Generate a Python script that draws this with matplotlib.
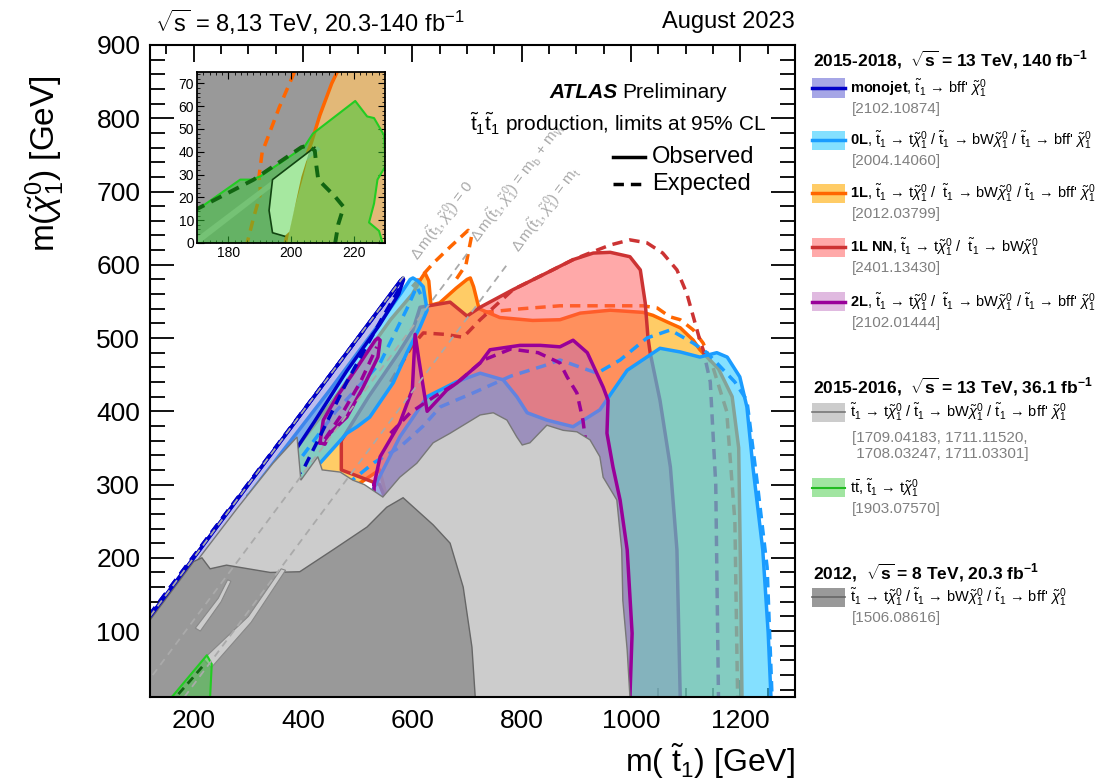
import numpy as np
import matplotlib.pyplot as plt
from matplotlib.patches import Rectangle
from matplotlib.lines import Line2D
from matplotlib.ticker import MultipleLocator

plt.rcParams['font.family'] = ['Liberation Sans', 'DejaVu Sans']
plt.rcParams['mathtext.fontset'] = 'custom'
plt.rcParams['mathtext.rm'] = 'Liberation Sans'
plt.rcParams['mathtext.it'] = 'Liberation Sans:italic'
plt.rcParams['mathtext.bf'] = 'Liberation Sans:bold'
plt.rcParams['mathtext.sf'] = 'Liberation Sans'

# ---------------- contours, m(stop) vs m(chi10) in GeV ----------------
# monojet (2102.10874)
mono_obs_x = [115, 250, 400, 500, 560, 578, 584, 575, 540, 480, 420, 380, 300, 200, 115]
mono_obs_y = [115, 250, 400, 500, 560, 578, 580, 560, 518, 455, 385, 340, 270, 180, 95]
mono_exp_x = [118, 583, 578, 546, 480, 425, 400, 300, 150, 118]
mono_exp_y = [121, 582, 570, 529, 440, 357, 320, 250, 120, 100]

# 0L (2004.14060): band near the diagonal and the large region
zl_band_x = [300, 450, 540, 580, 596, 601, 610, 620, 627, 614, 590, 565, 522, 499, 480, 420, 300]
zl_band_y = [285, 430, 520, 562, 580, 582, 578, 570, 538, 515, 480, 439, 392, 379, 370, 320, 230]
zl_obs_x = [500, 528, 577, 627, 680, 724, 766, 791, 810, 846, 894, 943, 993, 1053, 1090,
            1126, 1157, 1176, 1199, 1212, 1223, 1241, 1251, 1256, 1256, 500]
zl_obs_y = [230, 293, 365, 420, 440, 452, 443, 420, 398, 388, 379, 402, 456, 486, 481,
            474, 480, 474, 447, 406, 324, 211, 97, 10, 0, 0]
zl_exp_x = [480, 530, 577, 620, 651, 711, 780, 840, 870, 938, 980, 1029, 1072, 1114, 1139,
            1190, 1212, 1231, 1249, 1258, 1260]
zl_exp_y = [300, 330, 351, 380, 406, 425, 448, 462, 470, 452, 470, 500, 511, 493, 480,
            440, 415, 302, 187, 10, 0]
zl_exp2_x = [380, 460, 541, 590, 608, 615]
zl_exp2_y = [320, 400, 466, 540, 570, 560]

# 1L (2012.03799)
ol_obs_x = [300, 450, 560, 600, 615, 623, 630, 634, 650, 680, 700, 706, 712, 722, 760, 820,
            870, 907, 962, 1022, 1040, 1066, 1090, 1114, 1126, 1160, 1185, 1197, 1200, 1203,
            1203, 650, 540, 300]
ol_obs_y = [265, 410, 525, 560, 580, 589, 578, 545, 548, 568, 580, 582, 570, 540, 528, 524,
            525, 534, 538, 535, 531, 522, 514, 497, 484, 458, 420, 350, 200, 10,
            0, 0, 320, 200]
ol_exp_x = [730, 800, 870, 1022, 1048, 1071, 1090, 1114, 1132, 1150, 1175, 1190, 1195, 1196]
ol_exp_y = [535, 540, 544, 544, 541, 529, 525, 511, 493, 460, 400, 250, 10, 0]
ol_exp2_x = [600, 638, 670, 702, 708, 698, 680]
ol_exp2_y = [570, 602, 625, 647, 638, 600, 580]

# 1L NN (2401.13430)
nn_obs_x = [470, 520, 575, 601, 614, 669, 700, 724, 784, 846, 894, 931, 962, 998, 1017,
            1026, 1031, 1035, 1053, 1072, 1084, 1090, 1090, 700, 540, 470]
nn_obs_y = [360, 420, 480, 511, 542, 549, 530, 542, 566, 589, 607, 616, 617, 611, 593,
            548, 501, 480, 415, 324, 211, 10, 0, 0, 300, 320]
nn_exp_x = [560, 600, 620, 660, 693, 724, 784, 846, 894, 931, 962, 998, 1029, 1058, 1084,
            1102, 1114, 1126, 1132, 1145, 1155, 1160, 1160]
nn_exp_y = [440, 490, 507, 505, 501, 525, 566, 589, 607, 618, 627, 634, 630, 616, 593,
            561, 529, 497, 484, 440, 300, 10, 0]

# 2L (2102.01444)
tl_obs_x = [530, 541, 577, 600, 605, 612, 627, 663, 682, 724, 742, 797, 834, 870, 894, 920,
            949, 958, 956, 967, 980, 993, 1002, 998, 998, 530]
tl_obs_y = [300, 338, 384, 430, 505, 470, 400, 429, 439, 466, 484, 490, 490, 488, 497, 480,
            433, 415, 370, 324, 279, 211, 97, 10, 0, 0]
tl_exp_x = [560, 596, 640, 682, 730, 780, 830, 870, 883, 901, 912, 916, 918]
tl_exp_y = [370, 398, 420, 439, 470, 485, 480, 466, 447, 425, 388, 365, 300]
tl_lobe_x = [431, 437, 462, 499, 532, 537, 541, 537, 510, 480, 449, 440]
tl_lobe_y = [357, 388, 420, 460, 497, 500, 497, 474, 433, 392, 370, 355]
tl_lobe_exp_x = [440, 470, 505, 535]
tl_lobe_exp_y = [362, 395, 440, 488]

# 2015-2016, 36.1 fb-1
old_x = [110, 200, 280, 345, 389, 396, 427, 435, 468, 491, 512, 546, 577, 608, 638,
         669, 724, 748, 773, 791, 801, 815, 846, 876, 901, 925, 943, 949, 974, 983, 985, 993,
         998, 998, 110]
old_y = [100, 190, 268, 329, 365, 306, 338, 320, 317, 306, 300, 283, 310, 329, 357,
         370, 395, 398, 388, 365, 354, 357, 381, 374, 372, 361, 338, 310, 279, 211, 142, 74,
         10, 0, 0]
tt_x = [160, 224, 233, 230, 229, 158]
tt_y = [10, 67, 55, 10, 0, 0]
tt_exp_x = [172, 198, 222]
tt_exp_y = [14, 36, 57]

# 2012, 20.3 fb-1
run1_x = [110, 160, 200, 215, 230, 260, 300, 340, 394, 455, 517, 553, 583, 638, 669, 693, 709,
          715, 715, 110]
run1_y = [105, 155, 195, 200, 185, 190, 185, 180, 181, 211, 242, 269, 282, 245, 220, 160, 78,
          10, 0, 0]
gap1_x = [218, 300, 360, 368, 305, 232]
gap1_y = [62, 120, 185, 183, 112, 50]
gap2_x = [203, 245, 262, 268, 250, 212]
gap2_y = [104, 145, 170, 168, 140, 100]

# kinematic guide lines
dm0_x, dm0_y = [120, 590], [120, 590]
dmw_x, dmw_y = [125, 700], [40, 615]
dmt_x, dmt_y = [183, 775], [10, 602]

# ---------------- inset (zoom near m(stop) ~ m(top)) ----------------
in_orange_x = [198.2, 200.0, 203.3, 204.9, 206.5, 209.2, 213.0, 215.1, 231, 231]
in_orange_y = [0, 12.8, 29, 38, 44, 56, 70, 76, 76, 0]
in_orange_exp_x = [201.1, 196.2, 190.8, 189.8, 190.3, 188.1, 186.0]
in_orange_exp_y = [75, 59.3, 39.8, 29.3, 21.8, 11.3, 0]
in_band_x = [169, 208.5, 209.5, 169]
in_band_y = [1.5, 42.5, 41.0, -2]
in_green_x = [169, 183.8, 187.6, 190.3, 204.3, 207.0, 220.5, 224.3, 226.5, 229.7, 230.2,
              227.6, 226.5, 224.9, 228.1, 229.2, 169]
in_green_y = [13.5, 27.8, 27.8, 29.3, 42.3, 48, 62.3, 55.5, 54.8, 47.3, 33.8,
              27.8, 17.3, 9, 5.3, 0, 0]
in_light_x = [194.1, 193.0, 194.1, 197.9, 199.5, 203.3, 205.8, 207.6]
in_light_y = [27.8, 14.3, 4.5, 3.0, 5.0, 29.0, 40.0, 42.0]
in_obs_x = [207.6, 194.1, 193.0, 194.1, 197.9]
in_obs_y = [42.0, 27.8, 14.3, 4.5, 3.0]
in_exp_x = [169, 188.1, 203.3, 205.4, 207.6, 208.1, 208.7, 214.1, 216.8, 215.1, 214.1]
in_exp_y = [14.2, 27.8, 42, 42.8, 40.5, 33.8, 27.8, 20.3, 15.8, 8.3, 0]

# colours
C_MONO, L_MONO = '#6b6bd6', '#0000c8'
C_0L, L_0L = '#33ccff', '#1a9cff'
C_1L, L_1L = '#ffaa00', '#ff6600'
C_NN, L_NN = '#ff5555', '#cc3333'
C_2L, L_2L = '#bb66bb', '#990099'
DASH = (0, (3, 2))


def closed(v):
    return list(v) + [v[0]]


fig = plt.figure(figsize=(11.07, 7.83), dpi=100)
ax = fig.add_axes([150 / 1107, 86 / 783, 645 / 1107, 652 / 783])
ax.set_xlim(120, 1300)
ax.set_ylim(10, 900)

# 1L
ax.fill(ol_obs_x, ol_obs_y, color=C_1L, alpha=0.6, lw=0, zorder=2)
ax.plot(closed(ol_obs_x), closed(ol_obs_y), color=L_1L, lw=2.5, zorder=2.1)
ax.plot(ol_exp_x, ol_exp_y, color=L_1L, lw=2.5, ls=DASH, zorder=2.1)
ax.plot(ol_exp2_x, ol_exp2_y, color=L_1L, lw=2.5, ls=DASH, zorder=2.1)
# 1L NN
ax.fill(nn_obs_x, nn_obs_y, color=C_NN, alpha=0.5, lw=0, zorder=3)
ax.plot(closed(nn_obs_x), closed(nn_obs_y), color=L_NN, lw=2.5, zorder=3.1)
ax.plot(nn_exp_x, nn_exp_y, color=L_NN, lw=2.5, ls=DASH, zorder=3.1)
# 0L
for xs, ys in [(zl_band_x, zl_band_y), (zl_obs_x, zl_obs_y)]:
    ax.fill(xs, ys, color=C_0L, alpha=0.6, lw=0, zorder=4)
    ax.plot(closed(xs), closed(ys), color=L_0L, lw=2.5, zorder=4.1)
ax.plot(zl_exp_x, zl_exp_y, color=L_0L, lw=2.5, ls=DASH, zorder=4.1)
ax.plot(zl_exp2_x, zl_exp2_y, color=L_0L, lw=2.5, ls=DASH, zorder=4.1)
# 2L
for xs, ys in [(tl_obs_x, tl_obs_y), (tl_lobe_x, tl_lobe_y)]:
    ax.fill(xs, ys, color=C_2L, alpha=0.45, lw=0, zorder=5)
    ax.plot(closed(xs), closed(ys), color=L_2L, lw=2.5, zorder=5.1)
ax.plot(tl_exp_x, tl_exp_y, color=L_2L, lw=2.5, ls=DASH, zorder=5.1)
ax.plot(tl_lobe_exp_x, tl_lobe_exp_y, color=L_2L, lw=2.5, ls=DASH, zorder=5.1)
# monojet
ax.fill(mono_obs_x, mono_obs_y, color=C_MONO, alpha=0.45, lw=0, zorder=6)
ax.plot(closed(mono_obs_x), closed(mono_obs_y), color=L_MONO, lw=2.5, zorder=6.1)
ax.plot(mono_obs_x[:6], mono_obs_y[:6], color=L_MONO, lw=2.5, zorder=9.5)
ax.plot(closed(mono_exp_x), closed(mono_exp_y), color=L_MONO, lw=2.5, ls=DASH, zorder=6.1)
ax.plot(mono_exp_x[:2], mono_exp_y[:2], color=L_MONO, lw=2.5, ls=DASH, zorder=9.5)

# older results drawn on top
ax.fill(old_x, old_y, facecolor='#cccccc', edgecolor='#777777', lw=1, zorder=7)
ax.fill(run1_x, run1_y, facecolor='#999999', edgecolor='#666666', lw=1, zorder=8)
for xs, ys in [(gap1_x, gap1_y), (gap2_x, gap2_y)]:
    ax.fill(xs, ys, facecolor='#cccccc', edgecolor='#888888', lw=0.8, zorder=8.2)
ax.fill(tt_x, tt_y, facecolor='#44cc44', alpha=0.5, lw=0, zorder=9)
ax.plot(closed(tt_x), closed(tt_y), color='#22cc22', lw=1.5, zorder=9.1)
ax.plot(tt_exp_x, tt_exp_y, color='#116611', lw=2, ls=DASH, zorder=9.1)

# kinematic lines
gcol = '#aaaaaa'
for xs, ys in [(dm0_x, dm0_y), (dmw_x, dmw_y), (dmt_x, dmt_y)]:
    ax.plot(xs, ys, color=gcol, lw=1.3, ls=(0, (4, 3)), zorder=10)
dm_lab = r"$\Delta\,\mathrm{m}(\tilde{\mathrm{t}}_{1},\tilde{\chi}^{0}_{1})$"
ax.text(604, 608, dm_lab + " = 0", rotation=45, transform_rotates_text=True,
        rotation_mode='anchor', va='center', color=gcol, fontsize=11, zorder=10)
ax.text(714, 633, dm_lab + r" = m$_{\mathrm{b}}$ + m$_{\mathrm{W}}$", rotation=45,
        transform_rotates_text=True, rotation_mode='anchor', va='center', color=gcol,
        fontsize=11, zorder=10)
ax.text(789, 620, dm_lab + r" = m$_{\mathrm{t}}$", rotation=45, transform_rotates_text=True,
        rotation_mode='anchor', va='center', color=gcol, fontsize=11, zorder=10)

ax.xaxis.set_major_locator(MultipleLocator(200))
ax.xaxis.set_minor_locator(MultipleLocator(50))
ax.yaxis.set_major_locator(MultipleLocator(100))
ax.yaxis.set_minor_locator(MultipleLocator(20))
ax.tick_params(which='both', direction='in', top=True, right=True, width=1.3)
ax.tick_params(axis='x', which='major', length=12, labelsize=19, pad=9)
ax.tick_params(axis='x', which='minor', length=6.5)
ax.tick_params(axis='y', which='major', length=17, labelsize=19, pad=7)
ax.tick_params(axis='y', which='minor', length=11)
for s in ax.spines.values():
    s.set_linewidth(1.5)
    s.set_zorder(20)

# ---------------- inset ----------------
axin = fig.add_axes([197 / 1107, 1 - 243 / 783, 188 / 1107, 171 / 783])
axin.set_xlim(170, 230)
axin.set_ylim(0, 75)
axin.set_facecolor('#999999')
axin.fill(in_orange_x, in_orange_y, color='#e2b878', lw=0, zorder=1)
axin.plot(in_orange_x[:8], in_orange_y[:8], color='#ff6600', lw=2.5, zorder=1.5)
axin.plot(in_orange_exp_x, in_orange_exp_y, color='#ff6600', lw=2.5, ls=DASH, zorder=1.5)
axin.fill(in_band_x, in_band_y, color='#b8b8b8', lw=0, zorder=1.6)
axin.fill(in_green_x, in_green_y, color='#33cc33', alpha=0.5, lw=0, zorder=2)
axin.fill(in_light_x, in_light_y, color='#a6e8a0', lw=0, zorder=2.1)
axin.plot(closed(in_green_x), closed(in_green_y), color='#22cc22', lw=1.5, zorder=2.2)
axin.plot(in_obs_x, in_obs_y, color='#114411', lw=1.2, zorder=2.3)
axin.plot(in_exp_x, in_exp_y, color='#116611', lw=2.8, ls=DASH, zorder=2.3)
axin.xaxis.set_major_locator(MultipleLocator(20))
axin.xaxis.set_minor_locator(MultipleLocator(2))
axin.yaxis.set_major_locator(MultipleLocator(10))
axin.yaxis.set_minor_locator(MultipleLocator(2))
axin.tick_params(which='both', direction='in', top=True, right=True, labelsize=10, pad=2)
axin.tick_params(which='major', length=5)
axin.tick_params(which='minor', length=2.5)
for s in axin.spines.values():
    s.set_linewidth(1.3)
    s.set_zorder(20)

# ---------------- texts ----------------
W, H = 1107, 783


def fx(px):
    return px / W


def fy(py):
    return 1 - py / H


fig.text(fx(155), fy(22), r"$\sqrt{\mathrm{s}}$ = 8,13 TeV, 20.3-140 fb$^{-1}$", fontsize=17,
         va='center')
fig.text(fx(795), fy(22), "August 2023", fontsize=17, ha='right', va='center')
fig.text(fx(45), fy(75), r"m($\tilde{\chi}^{0}_{1}$) [GeV]", fontsize=24, rotation=90,
         ha='center', va='top')
fig.text(fx(795), fy(772), r"m( $\tilde{\mathrm{t}}_{1}$) [GeV]", fontsize=23, ha='right',
         va='baseline')
fig.text(fx(549), fy(92), "ATLAS", fontsize=15, fontweight='bold', style='italic', va='center')
fig.text(fx(622), fy(92), "Preliminary", fontsize=15, va='center')
fig.text(fx(470), fy(124), r"$\tilde{\mathrm{t}}_{1}\tilde{\mathrm{t}}_{1}$ production, limits at 95% CL",
         fontsize=15, va='center')
fig.add_artist(Line2D([fx(613), fx(645)], [fy(157), fy(157)], color='black', lw=2.5))
fig.add_artist(Line2D([fx(613), fx(645)], [fy(184), fy(184)], color='black', lw=2.5, ls=DASH))
fig.text(fx(652), fy(157), "Observed", fontsize=17, va='center')
fig.text(fx(652), fy(184), "Expected", fontsize=17, va='center')

# ---------------- right-hand legend ----------------
T1 = r"$\tilde{\mathrm{t}}_{1}$"
N1 = r"$\tilde{\chi}^{0}_{1}$"
dec_t = T1 + " \u2192 t" + N1
dec_bw = T1 + " \u2192 bW" + N1
dec_4b = T1 + " \u2192 bff' " + N1

headers = [
    (60, r"2015-2018,  $\sqrt{\mathbf{s}}$ = 13 TeV, 140 fb$^{\mathbf{-1}}$"),
    (387, r"2015-2016,  $\sqrt{\mathbf{s}}$ = 13 TeV, 36.1 fb$^{\mathbf{-1}}$"),
    (573, r"2012,  $\sqrt{\mathbf{s}}$ = 8 TeV, 20.3 fb$^{\mathbf{-1}}$"),
]
for py, s in headers:
    fig.text(fx(813), fy(py), s, fontsize=12.5, fontweight='bold', va='center')

entries = [
    (88, C_MONO, 0.6, L_MONO, 2.5, r"$\mathbf{monojet}$, " + dec_4b, ["[2102.10874]"]),
    (140, C_0L, 0.6, L_0L, 2.5, r"$\mathbf{0L}$, " + dec_t + " / " + dec_bw + " / " + dec_4b,
     ["[2004.14060]"]),
    (193, C_1L, 0.6, L_1L, 2.5, r"$\mathbf{1L}$, " + dec_t + " /  " + dec_bw + " / " + dec_4b,
     ["[2012.03799]"]),
    (247, C_NN, 0.5, L_NN, 2.5, r"$\mathbf{1L\ NN}$, " + dec_t + " /  " + dec_bw,
     ["[2401.13430]"]),
    (302, C_2L, 0.45, L_2L, 2.5, r"$\mathbf{2L}$, " + dec_t + " /  " + dec_bw + " / " + dec_4b,
     ["[2102.01444]"]),
    (412, '#cccccc', 1.0, '#777777', 1.2, dec_t + " / " + dec_bw + " / " + dec_4b,
     ["[1709.04183, 1711.11520,", " 1708.03247, 1711.03301]"]),
    (488, '#44cc44', 0.5, '#22bb22', 1.5, r"t$\bar{\mathrm{t}}$, " + dec_t, ["[1903.07570]"]),
    (597, '#999999', 1.0, '#666666', 1.2, dec_t + " / " + dec_bw + " / " + dec_4b,
     ["[1506.08616]"]),
]
for py, fc, al, lc, lw, label, refs in entries:
    fig.add_artist(Rectangle((fx(812), fy(py + 9.5)), 33 / W, 19 / H, facecolor=fc, alpha=al,
                             edgecolor='none', transform=fig.transFigure))
    fig.add_artist(Line2D([fx(812), fx(845)], [fy(py), fy(py)], color=lc, lw=lw))
    fig.text(fx(850), fy(py), label, fontsize=10.5, va='center')
    ry = py + 21 if len(refs) == 1 else py + 26
    for i, r in enumerate(refs):
        fig.text(fx(852), fy(ry + 16 * i), r, fontsize=11, color='#808080', va='center')

fig.savefig('out.png', dpi=100)
